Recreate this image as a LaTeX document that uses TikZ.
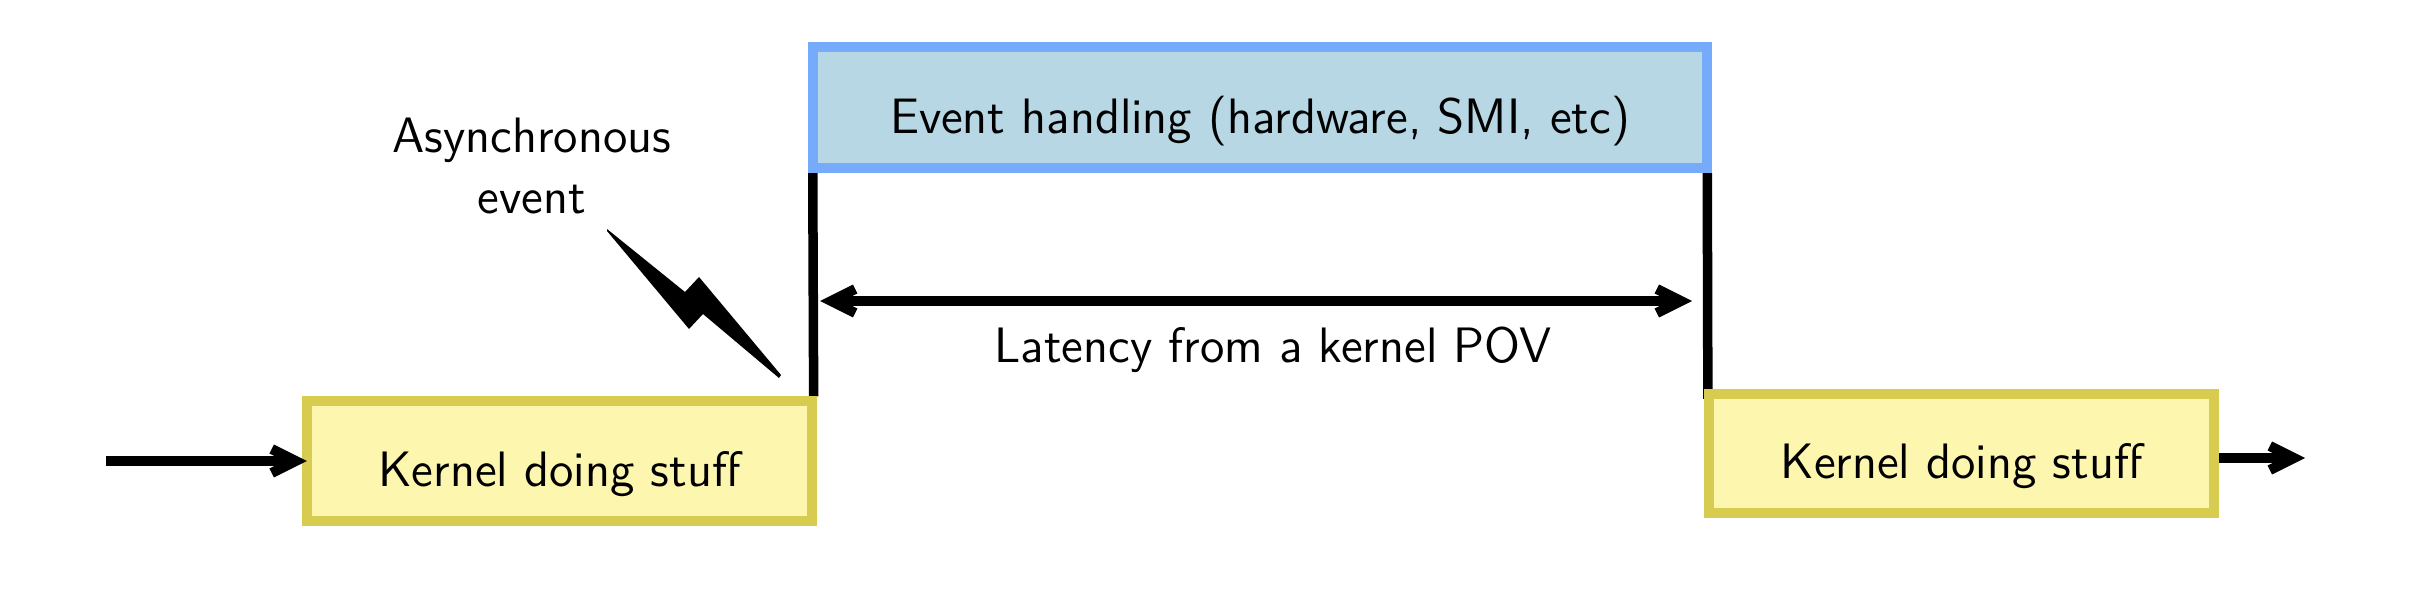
\documentclass[tikz,border=0pt]{standalone}
\usetikzlibrary{arrows.meta,backgrounds}
\definecolor{boxblue}{HTML}{75ABFA}
\definecolor{fillblue}{HTML}{B6D7E3}
\definecolor{boxyellow}{HTML}{D8CC50}
\definecolor{fillyellow}{HTML}{FDF6AE}
\begin{document}
\begin{tikzpicture}[x=.01cm,y=-.01cm,font=\sffamily\fontsize{14.15}{17.4}\selectfont]
	\tikzstyle{kernelbox}=[draw=boxyellow,fill=fillyellow,line width=.1cm,inner sep=0,minimum width=5.05cm,text height=.845cm,text depth=.345cm];
	\tikzstyle{eventbox}=[draw=boxblue,fill=fillblue,line width=.1cm,inner sep=0,minimum width=8.94cm,text height=.86cm,text depth=.35cm];
	\tikzstyle{flow}=[line width=.1cm,-{Straight Barb[length=.24cm,width=.24cm,line width=.1cm]}];
	\tikzstyle{latency}=[line width=.1cm,{Straight Barb[length=.24cm,width=.24cm,line width=.1cm]}-{Straight Barb[length=.24cm,width=.24cm,line width=.1cm]}];
	\tikzstyle{edge}=[line width=.095cm];
	\path[use as bounding box] (0,0) rectangle (2422,588);

	\node[kernelbox] (kernel1) at (559.5,461) {Kernel doing stuff};
	\node[kernelbox] (kernel2) at (1961.5,453.5) {Kernel doing stuff};
	\node[eventbox] (event) at (1260,107.5) {Event handling (hardware, SMI, etc)};

	\begin{scope}[on background layer]
		\draw[edge] ([xshift=.05cm]event.south west) -- ([xshift=-.035cm]kernel1.north east);
		\draw[edge] ([xshift=-.05cm]event.south east) -- ([xshift=.04cm,yshift=-.1cm]kernel2.north west);
	\end{scope}

	\node[align=center] (async) at (532,166) {Asynchronous\\event};
	\node (label) at (1273,350) {Latency from a kernel POV};

	\coordinate (in) at (106,461);
	\coordinate (out) at (2305,458);
	\coordinate (latl) at (820,301);
	\coordinate (latr) at (1692,301);
	\draw[flow] (in) -- ([xshift=.05cm]kernel1.west);
	\draw[flow] (kernel2.east |- out) -- (out);
	\draw[latency] (latl) -- (latr);

	\fill (607,229) -- (685,292) -- (699,277) -- (781,375) -- (779,378) -- (703,314) -- (689,329) -- (607,231) -- cycle;
\end{tikzpicture}
\end{document}
